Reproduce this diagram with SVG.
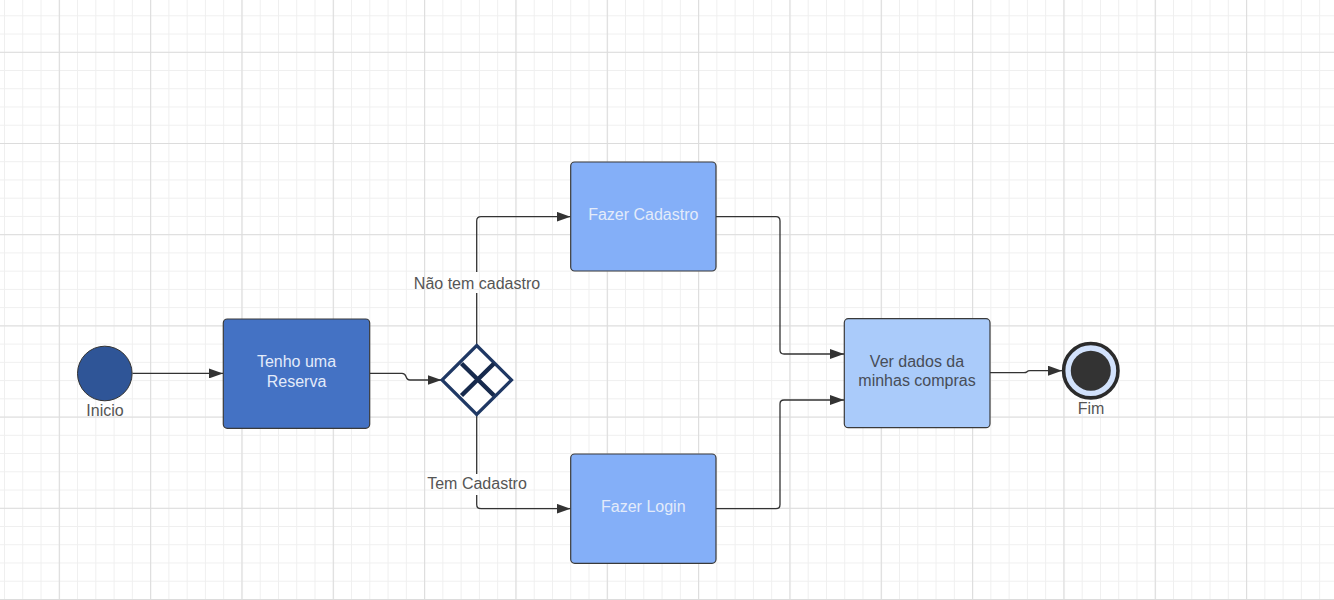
<svg xmlns="http://www.w3.org/2000/svg" width="1334" height="600" viewBox="0 0 1334 600">
  <defs>
    <pattern id="gridMinor" patternUnits="userSpaceOnUse" x="4" y="15.3" width="18.266" height="18.24">
      <path d="M0.5 0 V18.24 M0 0.5 H18.266" stroke="#efefef" stroke-width="1" fill="none"/>
    </pattern>
    <pattern id="gridMajor" patternUnits="userSpaceOnUse" x="58.8" y="51.8" width="91.33" height="91.2">
      <path d="M0.5 0 V91.2 M0 0.5 H91.33" stroke="#dcdcdc" stroke-width="1.2" fill="none"/>
    </pattern>
    <marker id="arrow" viewBox="0 0 14 10" refX="14" refY="5" markerWidth="14" markerHeight="10" markerUnits="userSpaceOnUse" orient="auto">
      <path d="M0 0 L14 5 L0 10 Z" fill="#333333"/>
    </marker>
    <style>
      .conn { fill: none; stroke: #333333; stroke-width: 1.3; }
      .task { stroke: #3a3a3a; stroke-width: 1.2; }
      .lbl { font-family: "Liberation Sans", Arial, sans-serif; font-size: 16px; text-anchor: middle; }
      .gray { fill: #555555; }
      .light { fill: #e3ebfa; }
      .dark { fill: #474d58; }
    </style>
  </defs>

  <rect width="1334" height="600" fill="#ffffff"/>
  <rect width="1334" height="600" fill="url(#gridMinor)"/>
  <rect width="1334" height="600" fill="url(#gridMajor)"/>

  <g id="connectors">
    <path class="conn" d="M132.5 373.4 H223" marker-end="url(#arrow)"/>
    <path class="conn" d="M370 373.3 H402 Q405 373.3 406 376.5 Q407 380 410 380 H441.5" marker-end="url(#arrow)"/>
    <path class="conn" d="M476.7 345 V293 M476.7 272 V221 Q476.7 216.7 481 216.7 H570.5" marker-end="url(#arrow)"/>
    <path class="conn" d="M476.7 415 V474 M476.7 495 V504.5 Q476.7 508.7 481 508.7 H570.5" marker-end="url(#arrow)"/>
    <path class="conn" d="M716 216.7 H776 Q780 216.7 780 221 V350 Q780 354 784 354 H844" marker-end="url(#arrow)"/>
    <path class="conn" d="M716 508.7 H776 Q780 508.7 780 504.5 V404 Q780 400 784 400 H844" marker-end="url(#arrow)"/>
    <path class="conn" d="M990 372.7 H1024 Q1026 372.7 1027 371.7 Q1028 370.7 1030 370.7 H1062" marker-end="url(#arrow)"/>
    <text class="lbl gray" x="477" y="288.5">Não tem cadastro</text>
    <text class="lbl gray" x="477" y="489">Tem Cadastro</text>
  </g>

  <g id="start">
    <circle cx="104.8" cy="373.5" r="27.3" fill="#2f5597" stroke="#333333" stroke-width="1"/>
    <text class="lbl gray" x="105" y="416">Inicio</text>
  </g>

  <g id="task-reserva">
    <rect class="task" x="223.3" y="319" width="146.4" height="109.3" rx="4" fill="#4472c4"/>
    <text class="lbl light" x="296.5" y="367">Tenho uma</text>
    <text class="lbl light" x="296.5" y="387">Reserva</text>
  </g>

  <g id="gateway">
    <path d="M476.7 345.5 L511.5 380 L476.7 414.5 L442 380 Z" fill="#ffffff" stroke="#1f3864" stroke-width="3.2"/>
    <path d="M461.5 363.5 L494 395.5 M494 363.5 L461.5 395.5" stroke="#172a4d" stroke-width="4.5" fill="none"/>
  </g>

  <g id="task-cadastro">
    <rect class="task" x="570.7" y="162" width="145.3" height="109" rx="4" fill="#84aff8"/>
    <text class="lbl light" x="643.3" y="220">Fazer Cadastro</text>
  </g>

  <g id="task-login">
    <rect class="task" x="570.7" y="454" width="145.3" height="109.3" rx="4" fill="#84aff8"/>
    <text class="lbl light" x="643.3" y="512">Fazer Login</text>
  </g>

  <g id="task-compras">
    <rect class="task" x="844.3" y="318.7" width="145.7" height="109" rx="4" fill="#aacbfa"/>
    <text class="lbl dark" x="917" y="367">Ver dados da</text>
    <text class="lbl dark" x="917" y="386">minhas compras</text>
  </g>

  <g id="end">
    <circle cx="1090.8" cy="370.7" r="27.2" fill="#d2e2fc" stroke="#2b2b2b" stroke-width="3.6"/>
    <circle cx="1090.8" cy="370.7" r="20" fill="#333333"/>
    <text class="lbl gray" x="1091" y="413.5">Fim</text>
  </g>
</svg>
